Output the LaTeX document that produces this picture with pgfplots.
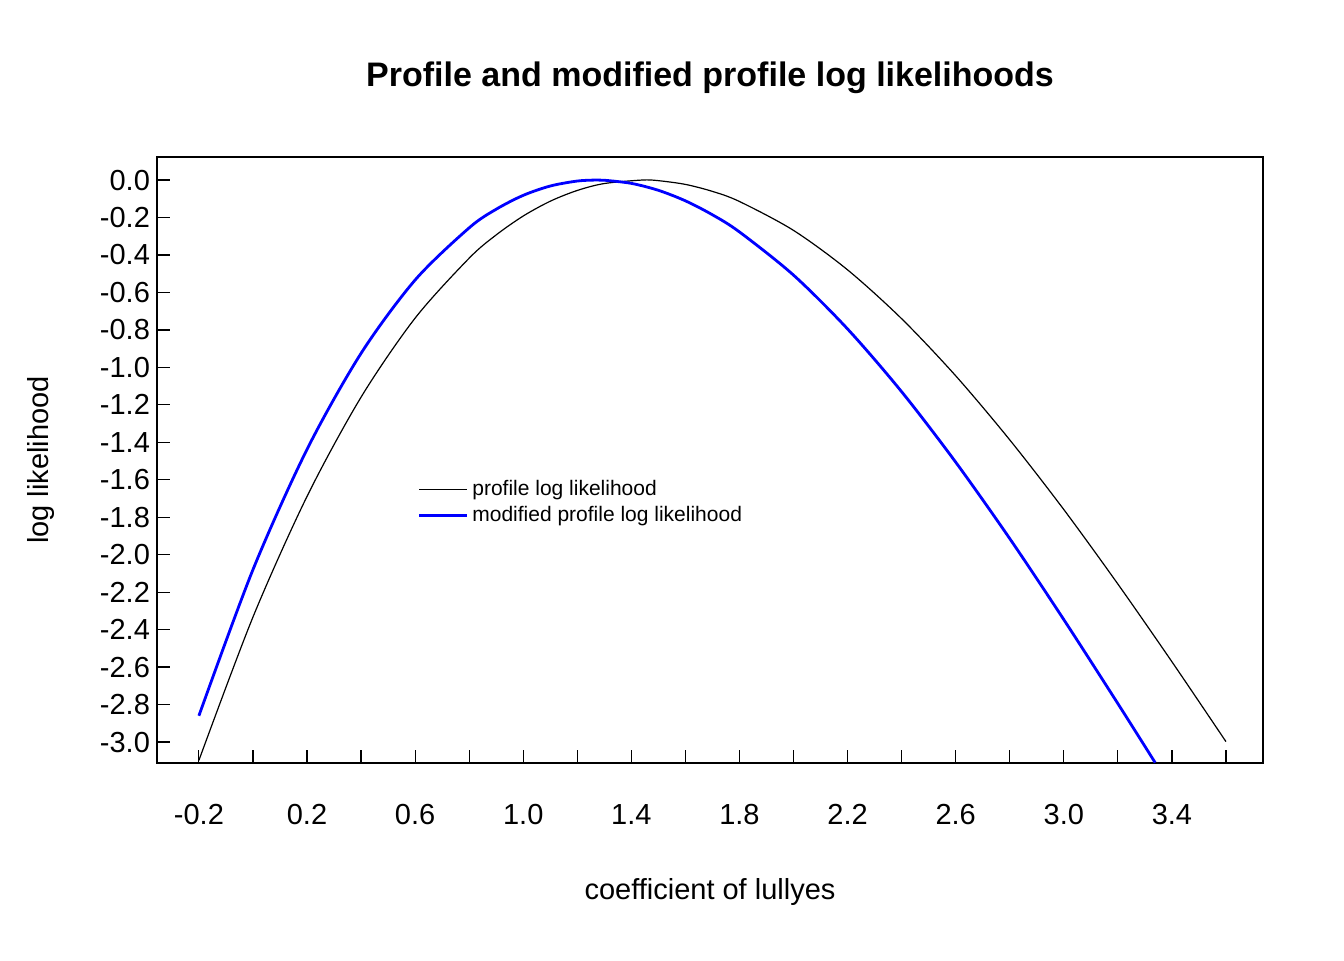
\documentclass[border=0pt]{standalone}
\usepackage{pgfplots}
\pgfplotsset{compat=1.18}
\usepackage{fontspec}
\setmainfont{Liberation Sans}
\begin{document}
\begin{tikzpicture}
\begin{axis}[
  scale only axis, width=553pt, height=303pt,
  xmin=-0.355, xmax=3.737, ymin=-3.112, ymax=0.123,
  axis line style={line width=0.6pt},
  tick align=inside, major tick length=6.5pt, minor tick length=6.5pt,
  tick style={black, line width=0.6pt},
  minor tick style={black, line width=0.6pt},
  xtick={-0.2,0.2,0.6,1.0,1.4,1.8,2.2,2.6,3.0,3.4},
  minor xtick={0,0.4,0.8,1.2,1.6,2.0,2.4,2.8,3.2,3.6},
  xticklabels={-0.2,0.2,0.6,1.0,1.4,1.8,2.2,2.6,3.0,3.4},
  xticklabel style={yshift=-17pt},
  ytick={-3,-2.8,...,0.01},
  yticklabel style={/pgf/number format/.cd,fixed,fixed zerofill,precision=1},
  /pgf/number format/assume math mode=true,
  ticklabel style={font=\fontsize{14.5}{16}\selectfont},
  xtick pos=bottom, ytick pos=left,
  xlabel={coefficient of lullyes}, ylabel={log likelihood},
  label style={font=\fontsize{14.5}{16}\selectfont},
  xlabel style={yshift=-20pt},
  ylabel style={yshift=16pt},
  title={\textbf{Profile and modified profile log likelihoods}},
  title style={font=\fontsize{17}{19}\selectfont, yshift=22pt},
  legend style={at={(0.23,0.48)}, anchor=north west, draw=none, fill=none,
    font=\fontsize{10.5}{12}\selectfont, row sep=0pt,
    /tikz/every even column/.append style={column sep=4pt}},
  legend image post style={xscale=1.4},
  legend cell align=left,
  clip=true,
]
\addplot[black, line width=0.6pt, smooth] coordinates {
(-0.2,-3.098)(0.0,-2.333)(0.2,-1.689)(0.4,-1.159)(0.6,-0.737)(0.8,-0.417)
(0.9,-0.2929)(1.0,-0.192)(1.1,-0.113)(1.2,-0.0555)(1.3,-0.0186)(1.44,0)(1.5,-0.0033)(1.6,-0.0233)(1.7,-0.0606)(1.8,-0.1145)(2.0,-0.2688)
(2.2,-0.4795)(2.4,-0.7403)(2.6,-1.045)(2.8,-1.387)(3.0,-1.759)(3.2,-2.1565)
(3.4,-2.5714)(3.6,-2.998)};
\addlegendentry{profile log likelihood}
\addplot[blue, line width=1.4pt, smooth] coordinates {
(-0.2,-2.86)(0.0,-2.080)(0.2,-1.438)(0.4,-0.925)(0.6,-0.5336)(0.8,-0.2551)
(0.9,-0.1558)(1.0,-0.0817)(1.1,-0.0319)(1.2,-0.0053)(1.27,0)(1.3,-0.001)(1.4,-0.0178)(1.5,-0.0548)(1.6,-0.111)(1.7,-0.1855)(1.8,-0.2771)(2.0,-0.5076)
(2.2,-0.795)(2.4,-1.130)(2.6,-1.506)(2.8,-1.914)(3.0,-2.3465)(3.2,-2.7948)
(3.338,-3.11)};
\addlegendentry{modified profile log likelihood}
\end{axis}
\path ([xshift=-78.5pt,yshift=-98.5pt]current axis.south west) rectangle ([xshift=40.5pt,yshift=78.5pt]current axis.north east);
\end{tikzpicture}
\end{document}
